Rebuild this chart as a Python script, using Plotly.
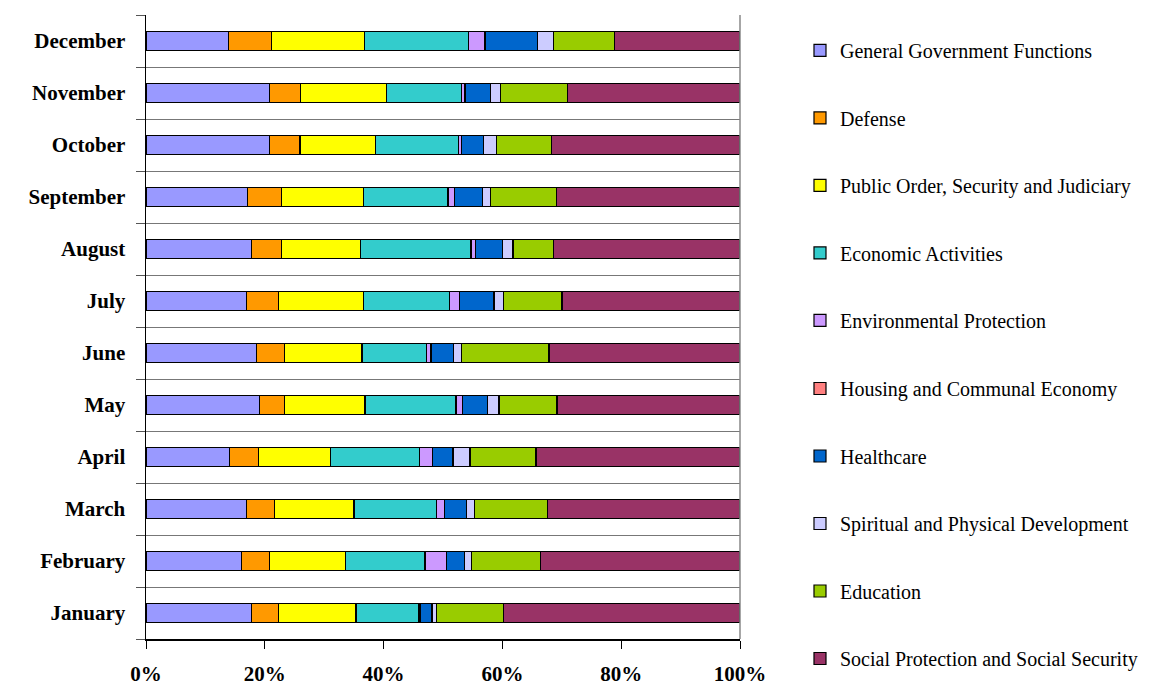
import plotly.graph_objects as go

months = ["January", "February", "March", "April", "May", "June",
          "July", "August", "September", "October", "November", "December"]

categories = ["General Government Functions", "Defense",
              "Public Order, Security and Judiciary", "Economic Activities",
              "Environmental Protection", "Housing and Communal Economy",
              "Healthcare", "Spiritual and Physical Development",
              "Education", "Social Protection and Social Security"]

general_gov = [17.78, 16.11, 16.98, 14.11, 19.11, 18.64, 16.91, 17.71, 17.11, 20.77, 20.77, 13.85]
defense = [4.46, 4.66, 4.66, 4.80, 4.19, 4.66, 5.33, 5.06, 5.66, 5.06, 5.26, 7.26]
public_order = [13.11, 12.85, 13.38, 12.18, 13.58, 13.05, 14.38, 13.31, 13.85, 12.72, 14.45, 15.58]
economic = [10.52, 13.38, 13.92, 14.98, 15.32, 10.92, 14.51, 18.64, 14.18, 13.91, 12.58, 17.51]
environment = [0.20, 3.60, 1.33, 2.20, 1.06, 0.70, 1.60, 0.70, 1.05, 0.45, 0.60, 2.70]
housing = [0.20, 0.05, 0.05, 0.05, 0.05, 0.10, 0.07, 0.10, 0.08, 0.10, 0.15, 0.20]
healthcare = [1.87, 3.00, 3.66, 3.39, 4.26, 3.66, 5.79, 4.52, 4.63, 3.60, 4.26, 8.70]
spiritual = [0.73, 1.13, 1.33, 2.87, 1.87, 1.33, 1.66, 1.73, 1.40, 2.27, 1.60, 2.66]
education = [11.38, 11.65, 12.32, 11.12, 9.78, 14.78, 9.79, 6.86, 11.11, 9.12, 11.25, 10.39]
social = [39.75, 33.62, 32.42, 34.35, 30.83, 32.16, 29.96, 31.36, 30.83, 31.69, 29.10, 21.04]

series = [general_gov, defense, public_order, economic, environment,
          housing, healthcare, spiritual, education, social]

colors = ["#9999FF", "#FF9900", "#FFFF00", "#33CCCC", "#CC99FF",
          "#FF8080", "#0066CC", "#CCCCFF", "#99CC00", "#993366"]

x_ticks = [0, 20, 40, 60, 80, 100]
x_tick_labels = ["0%", "20%", "40%", "60%", "80%", "100%"]

fig = go.Figure()
for i, (name, vals, col) in enumerate(zip(categories, series, colors)):
    fig.add_trace(go.Bar(
        y=months, x=vals, name=name, orientation="h",
        marker=dict(color=col, line=dict(color="black", width=1.2)),
        legendgroup=name,
        legend="legend" if i < 5 else "legend2",
    ))

serif = "Liberation Serif, Times New Roman, serif"

legend_common = dict(
    x=1.101, xanchor="left", yanchor="top",
    font=dict(family=serif, size=20, color="black"),
    traceorder="grouped",
    tracegroupgap=38.5,
    bgcolor="rgba(0,0,0,0)",
)

fig.update_layout(
    barmode="stack",
    barnorm="percent",
    bargap=0.63,
    width=1158, height=686,
    margin=dict(l=146, r=418, t=15, b=47, autoexpand=False),
    paper_bgcolor="white",
    plot_bgcolor="white",
    font=dict(family=serif, size=20, color="black"),
    legend=dict(y=0.9744, **legend_common),
    legend2=dict(y=0.4327, **legend_common),
    xaxis=dict(
        range=[0, 100],
        tickvals=x_ticks, ticktext=x_tick_labels,
        tickfont=dict(family=serif, size=21, color="black", weight="bold"),
        ticks="outside", ticklen=8, tickcolor="black", tickwidth=1,
        ticklabelstandoff=7,
        showline=True, linecolor="black", linewidth=1.5,
        showgrid=False, zeroline=False, fixedrange=True,
    ),
    yaxis=dict(
        type="category",
        categoryorder="array", categoryarray=months,
        tickson="boundaries",
        ticks="outside", ticklen=9, tickcolor="#555555", tickwidth=1,
        ticklabelstandoff=15,
        tickfont=dict(family=serif, size=21, color="black", weight="bold"),
        showline=True, linecolor="black", linewidth=1.5,
        showgrid=True, gridcolor="#777777", gridwidth=1,
        zeroline=False, fixedrange=True,
    ),
    shapes=[dict(type="line", xref="paper", yref="paper",
                 x0=1, x1=1, y0=0, y1=1,
                 line=dict(color="#888888", width=1.5))],
)

fig.write_html(
    "out.html",
    config={"displayModeBar": False, "staticPlot": True},
    post_script="document.body.style.margin='0px';document.body.style.overflow='hidden';",
)
